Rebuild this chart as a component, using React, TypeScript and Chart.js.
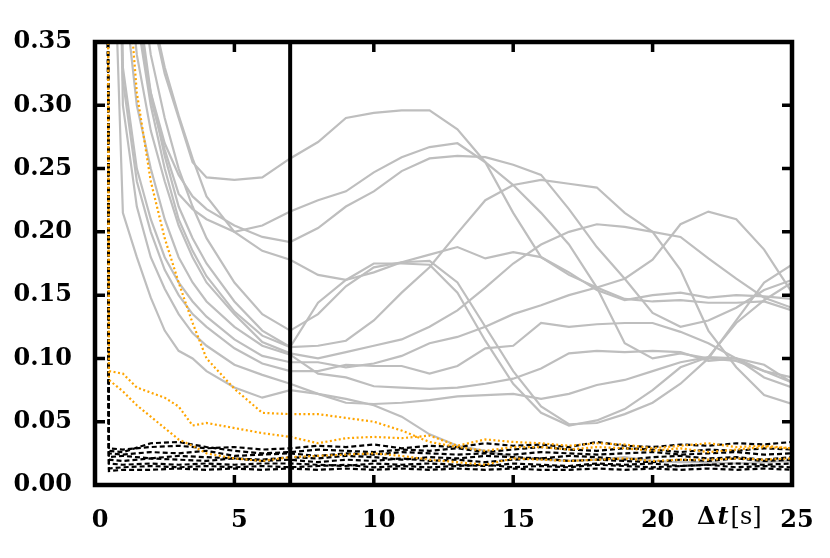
import { useEffect, useRef } from 'react';
import { Chart, registerables } from 'chart.js';

Chart.register(...registerables);

// time axes (s)
const tGray = [0.4, 0.5, 1, 1.5, 2, 2.5, 3, 3.5, 4, 5, 6, 7, 8, 9, 10, 11, 12, 13, 14, 15, 16, 17, 18, 19, 20, 21, 22, 23, 24, 25];
const tBlack = [0.4, 0.5, 1, 2, 3, 4, 5, 6, 7, 8, 9, 10, 11, 12, 13, 14, 15, 16, 17, 18, 19, 20, 21, 22, 23, 24, 25];

// gray solid series
const grayA = [1.0, 0.95, 0.64, 0.5, 0.375, 0.325, 0.29, 0.255, 0.243, 0.241, 0.243, 0.258, 0.271, 0.29, 0.294, 0.296, 0.296, 0.281, 0.255, 0.215, 0.18, 0.166, 0.156, 0.147, 0.145, 0.146, 0.144, 0.144, 0.145, 0.138];
const grayB = [1.0, 0.95, 0.6, 0.38, 0.305, 0.265, 0.23, 0.218, 0.21, 0.2, 0.205, 0.216, 0.225, 0.232, 0.247, 0.259, 0.267, 0.27, 0.255, 0.237, 0.215, 0.19, 0.156, 0.112, 0.1, 0.104, 0.1, 0.098, 0.09, 0.081];
const grayC = [1.0, 0.95, 0.58, 0.37, 0.31, 0.27, 0.245, 0.228, 0.218, 0.205, 0.196, 0.192, 0.203, 0.22, 0.232, 0.248, 0.258, 0.26, 0.259, 0.253, 0.245, 0.218, 0.188, 0.163, 0.136, 0.125, 0.13, 0.14, 0.154, 0.162];
const grayD = [1.0, 0.95, 0.62, 0.48, 0.38, 0.33, 0.292, 0.258, 0.228, 0.2, 0.185, 0.178, 0.166, 0.162, 0.168, 0.176, 0.182, 0.188, 0.179, 0.184, 0.18, 0.168, 0.154, 0.146, 0.15, 0.152, 0.148, 0.15, 0.149, 0.147];
const grayE = [1.0, 0.95, 0.5, 0.37, 0.3, 0.25, 0.21, 0.185, 0.165, 0.137, 0.118, 0.109, 0.11, 0.114, 0.13, 0.152, 0.172, 0.199, 0.225, 0.237, 0.241, 0.238, 0.235, 0.215, 0.2, 0.17, 0.122, 0.093, 0.071, 0.064];
const grayF = [1.0, 0.95, 0.45, 0.34, 0.28, 0.24, 0.205, 0.18, 0.16, 0.135, 0.113, 0.104, 0.1, 0.105, 0.11, 0.115, 0.125, 0.138, 0.156, 0.175, 0.19, 0.2, 0.206, 0.204, 0.2, 0.196, 0.179, 0.163, 0.148, 0.14];
const grayG = [1.0, 0.9, 0.33, 0.25, 0.21, 0.18, 0.16, 0.145, 0.133, 0.115, 0.102, 0.097, 0.097, 0.093, 0.096, 0.102, 0.112, 0.117, 0.125, 0.135, 0.142, 0.15, 0.156, 0.163, 0.178, 0.206, 0.216, 0.21, 0.186, 0.152];
const grayH = [1.0, 0.95, 0.52, 0.39, 0.31, 0.26, 0.22, 0.195, 0.175, 0.145, 0.122, 0.109, 0.144, 0.162, 0.175, 0.175, 0.174, 0.152, 0.114, 0.08, 0.057, 0.047, 0.051, 0.06, 0.075, 0.093, 0.101, 0.128, 0.146, 0.16];
const grayI = [1.0, 0.95, 0.55, 0.42, 0.34, 0.29, 0.25, 0.22, 0.195, 0.16, 0.135, 0.122, 0.135, 0.157, 0.172, 0.176, 0.177, 0.16, 0.125, 0.09, 0.062, 0.048, 0.049, 0.056, 0.065, 0.08, 0.1, 0.13, 0.16, 0.174];
const grayJ = [1.0, 0.9, 0.32, 0.24, 0.2, 0.17, 0.15, 0.135, 0.125, 0.108, 0.096, 0.09, 0.09, 0.095, 0.094, 0.094, 0.088, 0.094, 0.108, 0.11, 0.128, 0.125, 0.127, 0.128, 0.128, 0.121, 0.112, 0.1, 0.085, 0.077];
const grayK = [1.0, 0.95, 0.4, 0.3, 0.25, 0.21, 0.18, 0.16, 0.145, 0.125, 0.11, 0.103, 0.088, 0.085, 0.078, 0.077, 0.076, 0.077, 0.08, 0.084, 0.092, 0.104, 0.106, 0.105, 0.106, 0.105, 0.098, 0.1, 0.09, 0.085];
const grayL = [1.0, 0.9, 0.3, 0.22, 0.18, 0.155, 0.135, 0.12, 0.11, 0.095, 0.087, 0.08, 0.072, 0.065, 0.064, 0.065, 0.067, 0.07, 0.071, 0.072, 0.068, 0.072, 0.079, 0.083, 0.09, 0.097, 0.101, 0.1, 0.095, 0.081];
const grayM = [0.9, 0.55, 0.215, 0.18, 0.148, 0.122, 0.106, 0.1, 0.09, 0.077, 0.069, 0.075, 0.072, 0.068, 0.063, 0.054, 0.04, 0.031, 0.027, 0.022, 0.02, 0.019, 0.02, 0.022, 0.019, 0.018, 0.018, 0.017, 0.018, 0.019];

// orange dotted series
const orange1 = [1.0, 0.9, 0.45, 0.31, 0.24, 0.195, 0.16, 0.128, 0.1, 0.076, 0.057, 0.056, 0.056, 0.053, 0.05, 0.043, 0.034, 0.03, 0.027, 0.03, 0.03, 0.028, 0.03, 0.029, 0.027, 0.029, 0.026, 0.028, 0.03, 0.029];
const orange2 = [1.0, 0.09, 0.088, 0.077, 0.073, 0.069, 0.062, 0.047, 0.049, 0.045, 0.041, 0.038, 0.033, 0.037, 0.038, 0.037, 0.039, 0.031, 0.036, 0.034, 0.033, 0.031, 0.033, 0.032, 0.029, 0.031, 0.033, 0.03, 0.031, 0.029];
const orange3 = [1.0, 0.083, 0.074, 0.063, 0.054, 0.045, 0.036, 0.031, 0.025, 0.021, 0.019, 0.022, 0.023, 0.024, 0.025, 0.023, 0.02, 0.018, 0.016, 0.021, 0.02, 0.019, 0.02, 0.021, 0.019, 0.02, 0.02, 0.021, 0.02, 0.021];

// black dashed series
const black1 = [1.0, 0.029, 0.028, 0.03, 0.031, 0.029, 0.03, 0.028, 0.029, 0.031, 0.03, 0.032, 0.029, 0.031, 0.03, 0.033, 0.031, 0.032, 0.03, 0.034, 0.031, 0.03, 0.032, 0.031, 0.033, 0.032, 0.034];
const black2 = [1.0, 0.027, 0.026, 0.033, 0.034, 0.03, 0.027, 0.025, 0.026, 0.028, 0.027, 0.026, 0.028, 0.027, 0.029, 0.026, 0.028, 0.03, 0.028, 0.027, 0.029, 0.028, 0.026, 0.028, 0.027, 0.029, 0.028];
const black3 = [1.0, 0.025, 0.024, 0.026, 0.025, 0.027, 0.023, 0.024, 0.025, 0.023, 0.025, 0.024, 0.026, 0.025, 0.024, 0.025, 0.024, 0.026, 0.025, 0.024, 0.025, 0.026, 0.024, 0.025, 0.026, 0.024, 0.025];
const black4 = [1.0, 0.022, 0.023, 0.021, 0.023, 0.022, 0.021, 0.02, 0.022, 0.021, 0.023, 0.022, 0.02, 0.022, 0.021, 0.023, 0.022, 0.021, 0.023, 0.022, 0.02, 0.022, 0.023, 0.021, 0.022, 0.02, 0.022];
const black5 = [1.0, 0.02, 0.019, 0.021, 0.02, 0.019, 0.021, 0.019, 0.02, 0.018, 0.02, 0.019, 0.021, 0.019, 0.02, 0.018, 0.02, 0.021, 0.019, 0.02, 0.019, 0.018, 0.02, 0.019, 0.021, 0.019, 0.02];
const black6 = [1.0, 0.017, 0.016, 0.017, 0.016, 0.017, 0.016, 0.017, 0.017, 0.016, 0.015, 0.017, 0.016, 0.017, 0.016, 0.015, 0.017, 0.016, 0.015, 0.017, 0.016, 0.017, 0.015, 0.016, 0.017, 0.016, 0.017];
const black7 = [1.0, 0.013, 0.014, 0.015, 0.014, 0.015, 0.014, 0.015, 0.014, 0.015, 0.016, 0.014, 0.015, 0.014, 0.015, 0.016, 0.014, 0.015, 0.014, 0.016, 0.015, 0.014, 0.015, 0.016, 0.014, 0.015, 0.014];
const black8 = [1.0, 0.011, 0.012, 0.012, 0.013, 0.012, 0.013, 0.012, 0.013, 0.012, 0.013, 0.012, 0.013, 0.012, 0.013, 0.012, 0.013, 0.012, 0.012, 0.013, 0.012, 0.013, 0.012, 0.013, 0.012, 0.013, 0.012];

// vertical marker
const markerX = [7, 7];
const markerY = [0, 0.35];

// axes
const xTickValues = [0, 5, 10, 15, 20, 25];
const yTickValues = [0, 0.05, 0.1, 0.15, 0.2, 0.25, 0.3, 0.35];
const xTitleParts = ['Δ', 't', '[s]'];
const xTitleAt = 22.75;

const FONT_FAMILY = '"DejaVu Serif", "Liberation Serif", serif';

const pts = (xs: number[], ys: number[]) => xs.map((x, i) => ({ x, y: ys[i] }));

const framePlugin = {
  id: 'frame',
  afterDatasetsDraw(chart: any) {
    const { ctx, chartArea: a, scales } = chart;
    const xs = scales.x;
    const ys = scales.y;
    ctx.save();
    ctx.strokeStyle = '#000';
    ctx.lineCap = 'butt';
    ctx.lineWidth = 3.5;
    const TL = 10;
    ctx.beginPath();
    for (const v of xTickValues) {
      const px = xs.getPixelForValue(v);
      ctx.moveTo(px, a.bottom);
      ctx.lineTo(px, a.bottom - TL);
      ctx.moveTo(px, a.top);
      ctx.lineTo(px, a.top + TL);
    }
    for (const v of yTickValues) {
      const py = ys.getPixelForValue(v);
      ctx.moveTo(a.left, py);
      ctx.lineTo(a.left + TL, py);
      ctx.moveTo(a.right, py);
      ctx.lineTo(a.right - TL, py);
    }
    ctx.stroke();
    ctx.lineWidth = 4.5;
    ctx.strokeRect(a.left, a.top, a.right - a.left, a.bottom - a.top);

    // axis title
    const fonts = [
      `bold 24px ${FONT_FAMILY}`,
      `italic bold 24px ${FONT_FAMILY}`,
      `24px ${FONT_FAMILY}`,
    ];
    const widths = xTitleParts.map((p, i) => {
      ctx.font = fonts[i];
      return ctx.measureText(p).width;
    });
    const gap = 2;
    const total = widths.reduce((s, w) => s + w, 0) + gap * 2;
    let x = xs.getPixelForValue(xTitleAt) - total / 2;
    const y = a.bottom + 21;
    ctx.fillStyle = '#000';
    ctx.textBaseline = 'top';
    ctx.textAlign = 'left';
    xTitleParts.forEach((p, i) => {
      ctx.font = fonts[i];
      ctx.fillText(p, x, y);
      x += widths[i] + gap;
    });
    ctx.restore();
  },
};

export default function App() {
  const ref = useRef<HTMLCanvasElement | null>(null);

  useEffect(() => {
    if (!ref.current) return;
    const grays = [grayA, grayB, grayC, grayD, grayE, grayF, grayG, grayH, grayI, grayJ, grayK, grayL, grayM];
    const oranges = [orange1, orange2, orange3];
    const blacks = [black1, black2, black3, black4, black5, black6, black7, black8];

    const datasets: any[] = [];
    datasets.push({
      data: pts(markerX, markerY),
      borderColor: '#000',
      borderWidth: 4,
      pointRadius: 0,
      order: 0,
    });
    oranges.forEach((s) =>
      datasets.push({
        data: pts(tGray, s),
        borderColor: '#ffa500',
        borderWidth: 2.2,
        borderDash: [2, 2.5],
        pointRadius: 0,
        order: 1,
      })
    );
    blacks.forEach((s) =>
      datasets.push({
        data: pts(tBlack, s),
        borderColor: '#000',
        borderWidth: 2.2,
        borderDash: [5, 3],
        pointRadius: 0,
        order: 2,
      })
    );
    grays.forEach((s) =>
      datasets.push({
        data: pts(tGray, s),
        borderColor: '#bebebe',
        borderWidth: 2.2,
        pointRadius: 0,
        order: 3,
      })
    );

    const tickFont = { family: FONT_FAMILY, size: 24, weight: 'bold' as const };

    const chart = new Chart(ref.current, {
      type: 'line',
      data: { datasets },
      options: {
        responsive: false,
        animation: false,
        devicePixelRatio: 1,
        layout: { padding: { left: 0, top: 42, right: 38, bottom: 0 } },
        plugins: { legend: { display: false }, tooltip: { enabled: false }, title: { display: false } },
        elements: { line: { tension: 0 } },
        scales: {
          x: {
            type: 'linear',
            min: 0,
            max: 25,
            afterFit: (s: any) => {
              s.height = 73;
            },
            afterBuildTicks: (s: any) => {
              s.ticks = xTickValues.map((v) => ({ value: v }));
            },
            grid: { display: false, drawTicks: false },
            border: { display: false },
            ticks: {
              color: '#000',
              font: tickFont,
              padding: 21,
              labelOffset: 5,
              maxRotation: 0,
              callback: (v: any) => String(v),
            },
          },
          y: {
            type: 'linear',
            min: 0,
            max: 0.35,
            afterFit: (s: any) => {
              s.width = 95;
            },
            afterBuildTicks: (s: any) => {
              s.ticks = yTickValues.map((v) => ({ value: v }));
            },
            grid: { display: false, drawTicks: false },
            border: { display: false },
            ticks: {
              color: '#000',
              font: tickFont,
              padding: 23,
              callback: (v: any) => Number(v).toFixed(2),
            },
          },
        },
      },
      plugins: [framePlugin],
    });
    return () => chart.destroy();
  }, []);

  return (
    <div style={{ position: 'absolute', left: 0, top: 0, width: 830, height: 558, background: '#fff' }}>
      <canvas ref={ref} width={830} height={558} />
    </div>
  );
}
